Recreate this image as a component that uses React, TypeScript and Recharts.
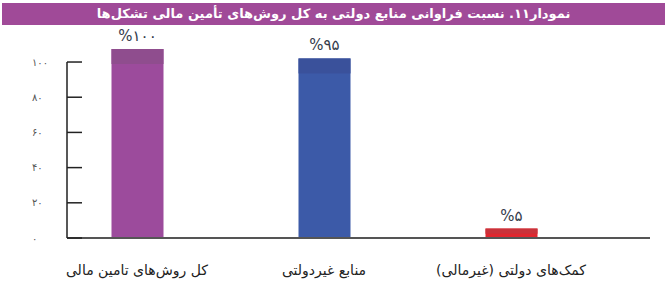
import React from "react";
import { Bar, BarChart, LabelList, XAxis, YAxis } from "recharts";

const title = "نمودار۱۱. نسبت فراوانی منابع دولتی به کل روش‌های تأمین مالی تشکل‌ها";

const categories = [
  "کل روش‌های تامین مالی",
  "منابع غیردولتی",
  "کمک‌های دولتی (غیرمالی)",
];
const shares = [100, 95, 5];
const yTicks = [0, 20, 40, 60, 80, 100];

const barColors = ["#9c4b9c", "#3c5aa8", "#df272f"];
const bandColors = ["#8f4d8e", "#3a519b", "#c9323a"];

const FONT = "'DejaVu Sans', sans-serif";

const toFa = (n: number | string) =>
  String(n).replace(/[0-9]/g, (d) => "۰۱۲۳۴۵۶۷۸۹"[Number(d)]);

const data = categories.map((name, i) => ({
  pos: i + 1,
  name,
  value: shares[i],
}));

function BandBar(props: any) {
  const { x, y, width, height, index } = props;
  if (!height || height <= 0) return null;
  const band = Math.min(15, height * 0.55);
  return (
    <g>
      <rect x={x} y={y} width={width} height={height} fill={barColors[index]} />
      <rect x={x} y={y} width={width} height={band} fill={bandColors[index]} />
    </g>
  );
}

function YTick(props: any) {
  const { x, y, payload } = props;
  return (
    <g>
      <line x1={x} x2={x + 15} y1={y} y2={y} stroke="#222" strokeWidth={1.5} />
      <text
        x={x - 35}
        y={y}
        textAnchor="start"
        dominantBaseline="central"
        fontSize={10}
        letterSpacing={5}
        fill="#555"
        fontFamily={FONT}
      >
        {toFa(payload.value)}
      </text>
    </g>
  );
}

function XTick(props: any) {
  const { x, y, payload } = props;
  const label = categories[payload.value - 1];
  return (
    <text
      x={x}
      y={y + 35}
      textAnchor="middle"
      fontSize={14}
      fill="#222"
      fontFamily={FONT}
      style={{ direction: "rtl", unicodeBidi: "embed" }}
    >
      {label}
    </text>
  );
}

function ValueLabel(props: any) {
  const { x, y, width, value } = props;
  return (
    <text
      x={x + width / 2}
      y={y - 8}
      textAnchor="middle"
      fontSize={15}
      fill="#333a4a"
      fontFamily={FONT}
    >
      {"%" + toFa(value)}
    </text>
  );
}

export default function App() {
  return (
    <div
      style={{
        position: "absolute",
        left: 0,
        top: 0,
        width: 667,
        height: 285,
        background: "#fff",
        fontFamily: FONT,
      }}
    >
      <BarChart
        width={667}
        height={285}
        data={data}
        margin={{ top: 49, right: 17, bottom: 7, left: 8 }}
      >
        <XAxis
          type="number"
          dataKey="pos"
          domain={[1, 3]}
          ticks={[1, 2, 3]}
          padding={{ left: 70, right: 139 }}
          axisLine={{ stroke: "#555", strokeWidth: 2 }}
          tickLine={false}
          tickSize={0}
          tick={<XTick />}
          height={40}
        />
        <YAxis
          yAxisId="ticks"
          width={59}
          domain={[0, 107.4]}
          ticks={yTicks}
          axisLine={{ stroke: "#222", strokeWidth: 1.5, strokeDasharray: "0 13 300" }}
          tickLine={false}
          tickSize={0}
          tickMargin={0}
          tick={<YTick />}
          allowDataOverflow
        />
        <YAxis yAxisId="bars" orientation="right" hide domain={[0, 100]} />
        <Bar
          yAxisId="bars"
          dataKey="value"
          barSize={52}
          shape={<BandBar />}
          isAnimationActive={false}
        >
          <LabelList dataKey="value" content={<ValueLabel />} />
        </Bar>
      </BarChart>
      <div
        dir="rtl"
        style={{
          position: "absolute",
          left: 2,
          top: 3,
          width: 663,
          height: 22,
          lineHeight: "22px",
          background: "#a04a98",
          color: "#fff",
          fontWeight: "bold",
          fontSize: 13,
          textAlign: "center",
        }}
      >
        {title}
      </div>
    </div>
  );
}
